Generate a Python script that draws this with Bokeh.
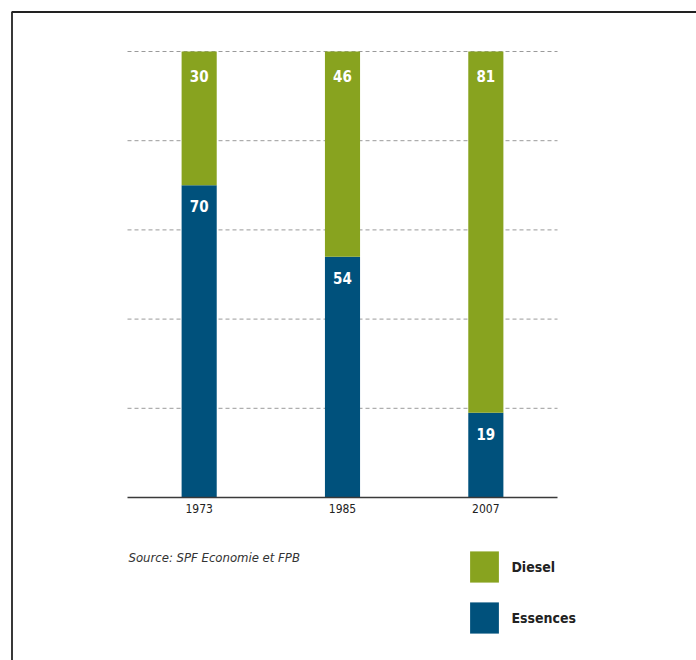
from bokeh.plotting import figure
from bokeh.models import (ColumnDataSource, Range1d, Label, Legend, LegendItem, BoxAnnotation)
from bokeh.core.properties import value
from bokeh.embed import file_html
from bokeh.resources import INLINE

# ---- data ----
years = ["1973", "1985", "2007"]
essences = [70, 54, 19]
diesel = [30, 46, 81]
series_names = ["Diesel", "Essences"]
source_note = "Source: SPF Economie et FPB"
grid_levels = [20, 40, 60, 80, 100]

GREEN = "#88a31f"
BLUE = "#00517c"
FONT = "DejaVu Sans Condensed"

W, H = 696, 660
# plot area in page pixels
PL, PR, PT, PB = 127, 557, 51, 497
n = len(years)
xpx = (PR - PL) / n            # pixels per category
ypx = (PB - PT) / 100.0        # pixels per percent

xc = [i + 0.5 for i in range(n)]
src = ColumnDataSource(dict(
    x=xc, year=years, essences=essences, diesel=diesel,
    ess_top=essences,
    die_top=[e + d for e, d in zip(essences, diesel)],
    ess_txt=[str(v) for v in essences],
    die_txt=[str(v) for v in diesel],
))

p = figure(width=W, height=H, output_backend="svg", toolbar_location=None,
           x_range=Range1d(-PL / xpx, (W - PL) / xpx),
           y_range=Range1d(-(H - PB) / ypx, PB / ypx),
           x_axis_location=None, y_axis_location=None, min_border=0)
p.outline_line_color = None
p.grid.visible = False
p.background_fill_color = "white"

# dashed grid lines across the plot area
p.segment(x0=[0] * len(grid_levels), x1=[n] * len(grid_levels),
          y0=grid_levels, y1=grid_levels, line_color="#9a9a9a",
          line_dash="4 3", line_width=1)

rs = p.vbar_stack(["essences", "diesel"], x="x", width=0.245, source=src,
                  color=[BLUE, GREEN], line_color=None)

# axis line
p.segment(x0=[0], x1=[n], y0=[0], y1=[0], line_color="#3a3a3a", line_width=1.5)
# category labels
p.text(x="x", y=0, text="year", source=src, text_color="#222222",
       text_font=value(FONT), text_font_size="12px", text_align="center",
       text_baseline="middle", y_offset=11)

# value labels
p.text(x="x", y="ess_top", text="ess_txt", source=src, text_color="white",
       text_font=value(FONT), text_font_size="15px", text_font_style="bold",
       text_align="center", text_baseline="middle", y_offset=21)
p.text(x="x", y="die_top", text="die_txt", source=src, text_color="white",
       text_font=value(FONT), text_font_size="15px", text_font_style="bold",
       text_align="center", text_baseline="middle", y_offset=24)

# source note
p.add_layout(Label(x=128, y=H - 557, x_units="screen", y_units="screen", text=source_note,
                   text_font=FONT, text_font_size="13px", text_font_style="italic",
                   text_color="#333333", text_baseline="middle"))

# legend
legend = Legend(items=[LegendItem(label=series_names[0], renderers=[rs[1]]),
                       LegendItem(label=series_names[1], renderers=[rs[0]])],
                location=(466.4, H - 637.1), orientation="vertical",
                glyph_width=36, glyph_height=39, spacing=12, padding=0, margin=0,
                label_standoff=9, label_text_font=FONT, label_text_font_size="14px",
                label_text_font_style="bold", label_text_color="#222222",
                border_line_color=None, background_fill_alpha=0)
p.add_layout(legend, "center")

# page frame
p.add_layout(BoxAnnotation(left=11.5, right=W + 50, top=H - 11.5, bottom=-50,
                           left_units="screen", right_units="screen",
                           top_units="screen", bottom_units="screen",
                           fill_alpha=0, line_color="#222222", line_width=1.8,
                           line_alpha=1))

open("out.html", "w").write(file_html(p, INLINE))
